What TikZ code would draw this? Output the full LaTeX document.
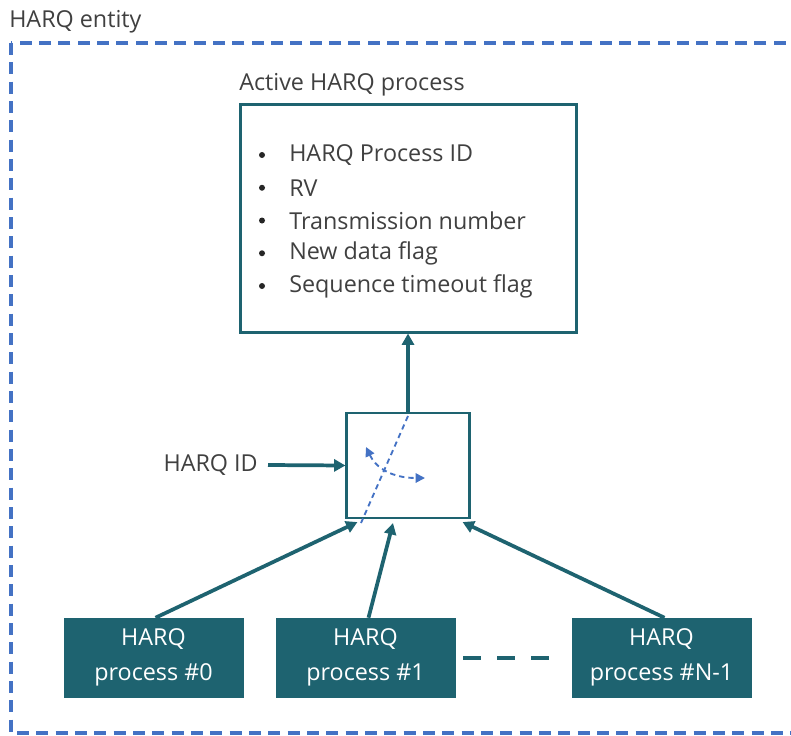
\documentclass[tikz,border=0pt]{standalone}
\definecolor{harqteal}{RGB}{30,99,112}
\definecolor{officeblue}{RGB}{68,114,196}
\definecolor{textgray}{RGB}{64,64,64}
\usepackage{fontspec}
\setmainfont{Open Sans}
\usepackage{tikz}
\usetikzlibrary{arrows.meta, positioning, calc}

\begin{document}
\begin{tikzpicture}[x=0.75pt, y=-0.75pt,
    lbl/.style={font=\fontsize{17.5}{24}\selectfont, text=textgray, inner sep=0pt},
    dot/.style={circle, fill=black!85, inner sep=0pt, minimum size=4.5pt},
    procbox/.style={fill=harqteal, draw=harqteal, text=white, align=center,
      minimum width=134.25pt, minimum height=59.25pt, inner sep=0pt,
      font=\fontsize{17.5}{26}\selectfont},
    link/.style={harqteal, line width=2.8pt, -{Triangle[length=8.5pt,width=9pt]}},
    switchline/.style={officeblue, line width=1.4pt, dash pattern=on 4pt off 3pt}]
  \useasboundingbox (0,0) rectangle (791,735);
  % HARQ entity (dashed frame, runs off the right edge)
  \draw[officeblue, line width=2.3pt, dash pattern=on 9pt off 5.5pt] (11,43) rectangle (820,733);
  \node[lbl, anchor=west] (entity) at (9,22) {HARQ entity};

  % Active HARQ process with its fields
  \node[draw=harqteal, line width=2.25pt, minimum width=252pt, minimum height=171pt] (act) at (408,218) {};
  \node[lbl, anchor=south west] (actlbl) at (239,96) {Active HARQ process};
  \foreach \txt [count=\i] in {HARQ Process ID, RV, Transmission number, New data flag, Sequence timeout flag} {
    \node[dot] (bul\i) at (262,{155+32.75*(\i-1)}) {};
    \node[lbl, anchor=west] (item\i) at (289,{155+32.75*(\i-1)}) {\txt};
  }

  % Selector
  \node[draw=harqteal, line width=1.6pt, minimum width=92.25pt, minimum height=78.75pt] (sw) at (408,465.5) {};
  \node[lbl, anchor=east] (hid) at (258,465) {HARQ ID};
  \draw[switchline] (408,416) -- (361,523);
  \draw[switchline, {Triangle[length=7pt,width=7pt]}-{Triangle[length=7pt,width=7pt]}]
    (366,447) .. controls (376,468) and (392,478) .. (425,478);

  % HARQ processes
  \node[procbox] (p0) at (153.5,657.5) {HARQ\\process \#0};
  \node[procbox] (p1) at (365.5,657.5) {HARQ\\process \#1};
  \node[procbox] (pn) at (661.5,657.5) {HARQ\\process \#N-1};
  \draw[harqteal, line width=3pt, dash pattern=on 13.5pt off 12pt, shorten <=6pt, shorten >=17pt] (p1.east) -- (pn.west);

  % Connectors
  \draw[link] (sw.north) -- (act.south);
  \draw[link] (hid.east) ++(10,0) -- (sw.west);
  \draw[link] ($(p0.north)+(2,0)$) -- ($(sw.south west)+(12,3)$);
  \draw[link] ($(p1.north)+(3,0)$) -- ($(sw.south)+(-15,4)$);
  \draw[link] ($(pn.north)+(3,0)$) -- ($(sw.south east)+(-8,3)$);
\end{tikzpicture}
\end{document}
